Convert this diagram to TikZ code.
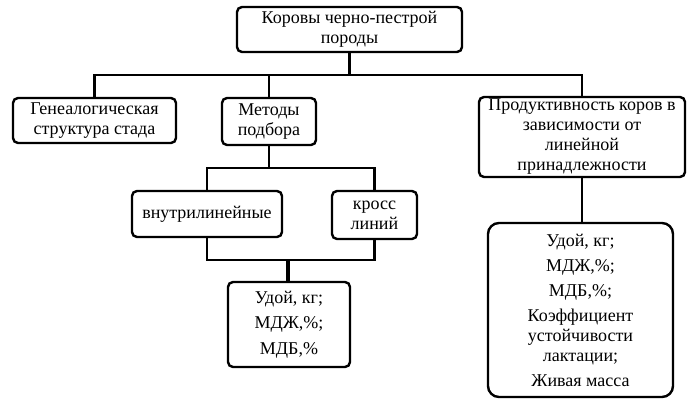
\documentclass[tikz,border=0pt]{standalone}
\usepackage{fontspec}
\setmainfont{Liberation Serif}
\begin{document}
\begin{tikzpicture}[x=1pt,y=-1pt,
  box/.style={draw,line width=2.4pt,rounded corners=5pt,align=center,inner sep=0pt,font=\fontsize{18}{20}\selectfont},
  conn/.style={line width=2.4pt},
  thick conn/.style={line width=3.6pt}]
\useasboundingbox (0,0) rectangle (695,403);
\node[box,minimum width=225pt,minimum height=45pt] (top) at (349.5,29.5) {Коровы черно-пестрой\\породы};
\node[box,minimum width=163pt,minimum height=45pt] (gen) at (94.5,120.5) {Генеалогическая\\структура стада};
\node[box,minimum width=94pt,minimum height=47pt] (meth) at (269,121.5) {Методы\\подбора};
\node[box,minimum width=206pt,minimum height=80pt] (prod) at (582,137) {Продуктивность коров в\\зависимости от\\линейной\\принадлежности};
\node[box,minimum width=150pt,minimum height=46pt] (vn) at (207,214) {внутрилинейные};
\node[box,minimum width=85pt,minimum height=48pt] (kr) at (374.5,215) {кросс\\линий};
\node[box,minimum width=122pt,minimum height=85pt] (ud1) at (289,324.5) {Удой, кг;\\[5.5pt]МДЖ,\%;\\[5.5pt]МДБ,\%};
\node[box,rounded corners=11pt,minimum width=185pt,minimum height=174pt] (ud2) at (580.5,310) {Удой, кг;\\[5pt]МДЖ,\%;\\[5pt]МДБ,\%;\\[5pt]Коэффициент\\устойчивости\\лактации;\\[5pt]Живая масса};
\coordinate (j1) at (349.5,75);
\coordinate (j2) at (269,168);
\coordinate (j3) at (288,260);
\draw[conn] (top.south) -- (j1);
\draw[conn] (gen.north) |- (j1) -| (prod.north);
\draw[conn] (meth.north) -- (meth.north |- j1);
\draw[conn] (meth.south) -- (j2);
\draw[conn] (vn.north) |- (j2) -| (kr.north);
\draw[conn] (vn.south) |- (j3) -| (kr.south);
\draw[thick conn] (j3) -- (j3 |- ud1.north);
\draw[conn] (prod.south) -- (prod.south |- ud2.north);
\end{tikzpicture}
\end{document}
